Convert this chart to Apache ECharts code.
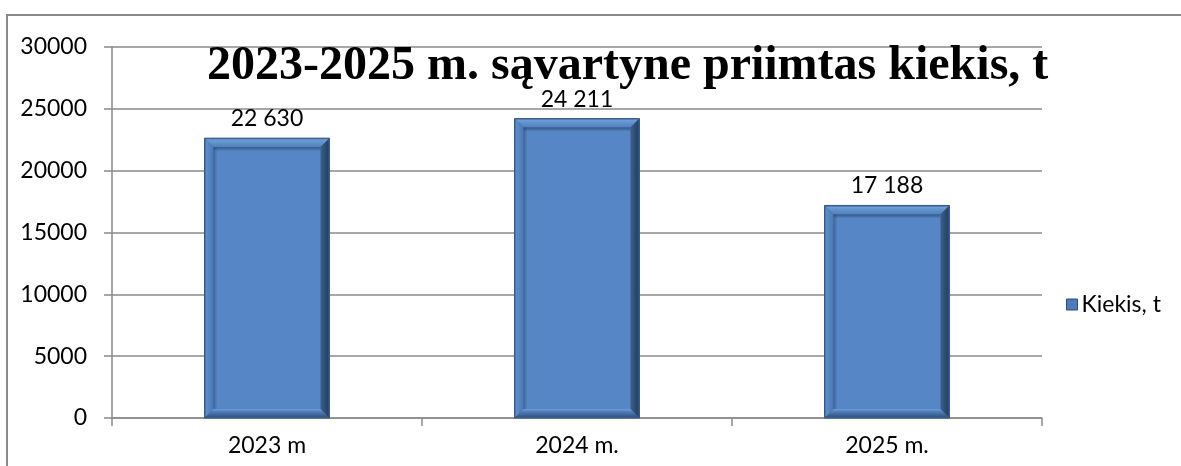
<!DOCTYPE html>
<html>
<head>
<meta charset="utf-8">
<script src="https://cdn.jsdelivr.net/npm/echarts@6/dist/echarts.min.js"></script>
<style>html,body{margin:0;padding:0;background:#fff}#c{width:1181px;height:466px}</style>
</head>
<body>
<div id="c"></div>
<script>
const categories = ['2023 m', '2024 m.', '2025 m.'];
const values = [22630, 24211, 17188];
const seriesName = 'Kiekis, t';
const chartTitle = '2023-2025 m. sąvartyne priimtas kiekis, t';
const yMin = 0, yMax = 30000, yStep = 5000;

const fmt = v => String(v).replace(/\B(?=(\d{3})+(?!\d))/g, ' ');
const FONT = 'Lato';
const FS = 23;

const chart = echarts.init(document.getElementById('c'));
chart.setOption({
  animation: false,
  backgroundColor: '#fff',
  graphic: [{
    type: 'rect', silent: true, z: -10,
    shape: { x: 7, y: 15, width: 1300, height: 600 },
    style: { fill: 'none', stroke: '#8a8a8a', lineWidth: 2 }
  }],
  title: {
    text: chartTitle,
    left: 202, top: 37,
    textStyle: { fontFamily: 'Liberation Serif', fontWeight: 'bold', fontSize: 48, color: '#000', lineHeight: 49 }
  },
  legend: {
    data: [{ name: seriesName, icon: 'rect', itemStyle: { color: '#4c7cba', borderColor: '#2d4d78', borderWidth: 1 } }],
    orient: 'vertical', left: 1061, top: 288,
    itemWidth: 11, itemHeight: 11, itemGap: 6,
    textStyle: { fontFamily: FONT, fontSize: FS, color: '#000', padding: [0, 0, 0, -1] }
  },
  grid: { left: 112, right: 139, top: 47, bottom: 48, containLabel: false },
  xAxis: {
    type: 'category', data: categories,
    axisLine: { lineStyle: { color: '#8a8a8a', width: 1.5 } },
    axisTick: { show: true, length: 8, lineStyle: { color: '#8a8a8a', width: 1.5 } },
    axisLabel: { fontFamily: FONT, fontSize: FS, color: '#000', margin: 16 }
  },
  yAxis: {
    type: 'value', min: yMin, max: yMax, interval: yStep,
    axisLine: { show: true, lineStyle: { color: '#8a8a8a', width: 1.5 } },
    axisTick: { show: true, length: 8, lineStyle: { color: '#8a8a8a', width: 1.5 } },
    splitLine: { lineStyle: { color: '#8a8a8a', width: 1.5 } },
    axisLabel: { fontFamily: FONT, fontSize: FS, color: '#000', margin: 25, formatter: v => String(v) }
  },
  series: [{
    name: seriesName,
    type: 'custom',
    data: values.map((v, i) => [i, v]),
    encode: { x: 0, y: 1 },
    renderItem: function (params, api) {
      const xi = api.value(0), v = api.value(1);
      const top = api.coord([xi, v]);
      const base = api.coord([xi, 0]);
      const w = api.size([1, 0])[0] * 0.403;
      const l = top[0] - w / 2, r = top[0] + w / 2, t = top[1], b = base[1];
      const d = 9;
      const il = l + d, ir = r - d, it = t + d, ib = b - d;
      return {
        type: 'group',
        children: [
          { type: 'rect', shape: { x: l, y: t, width: w, height: b - t }, style: { fill: '#3c6496', stroke: '#34557f', lineWidth: 1 } },
          { type: 'polygon', shape: { points: [[l + 1, t + 1], [r - 1, t + 1], [ir, it], [il, it]] },
            style: { fill: new echarts.graphic.LinearGradient(0, 0, 0, 1, [{ offset: 0, color: '#6f9fd9' }, { offset: 1, color: '#4f7fbd' }]) } },
          { type: 'polygon', shape: { points: [[l + 1, t + 1], [il, it], [il, ib], [l + 1, b - 1]] },
            style: { fill: new echarts.graphic.LinearGradient(0, 0, 1, 0, [{ offset: 0, color: '#5f8fcc' }, { offset: 1, color: '#4a78b4' }]) } },
          { type: 'polygon', shape: { points: [[r - 1, t + 1], [r - 1, b - 1], [ir, ib], [ir, it]] },
            style: { fill: new echarts.graphic.LinearGradient(0, 0, 1, 0, [{ offset: 0, color: '#3b5f8e' }, { offset: 1, color: '#24405f' }]) } },
          { type: 'polygon', shape: { points: [[l + 1, b - 1], [il, ib], [ir, ib], [r - 1, b - 1]] },
            style: { fill: new echarts.graphic.LinearGradient(0, 0, 0, 1, [{ offset: 0, color: '#6d9cd8' }, { offset: 0.35, color: '#4e7db9' }, { offset: 1, color: '#33557f' }]) } },
          { type: 'rect', shape: { x: il, y: it, width: ir - il, height: ib - it },
            style: { fill: '#5686c6' } },
          { type: 'rect', shape: { x: il, y: it, width: ir - il, height: 4 },
            style: { fill: new echarts.graphic.LinearGradient(0, 0, 0, 1, [{ offset: 0, color: 'rgba(30,50,80,0.55)' }, { offset: 1, color: 'rgba(30,50,80,0)' }]) } },
          { type: 'rect', shape: { x: il, y: it, width: 4, height: ib - it },
            style: { fill: new echarts.graphic.LinearGradient(0, 0, 1, 0, [{ offset: 0, color: 'rgba(30,50,80,0.4)' }, { offset: 1, color: 'rgba(30,50,80,0)' }]) } },
          { type: 'text', style: { text: fmt(v), x: top[0], y: t - 8, align: 'center', verticalAlign: 'bottom',
              fontFamily: FONT, fontSize: FS, fill: '#000' } }
        ]
      };
    }
  }]
});
</script>
</body>
</html>
